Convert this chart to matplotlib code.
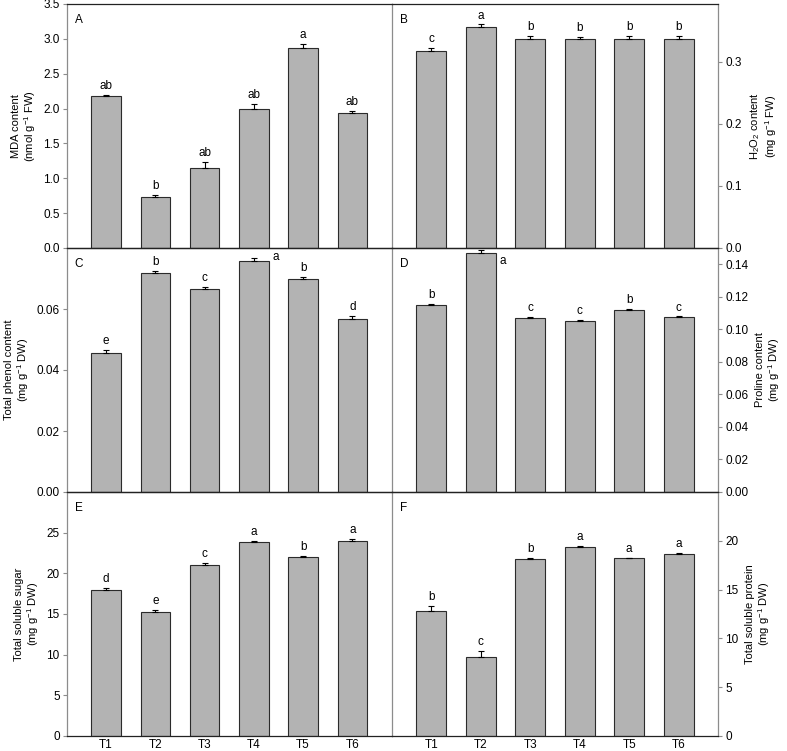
"""Six-panel bar chart (A-F) of stress markers across treatments T1-T6."""

import matplotlib

matplotlib.use("Agg")
import matplotlib.pyplot as plt  # noqa: E402
import numpy as np  # noqa: E402

plt.rcParams["font.family"] = ["Liberation Sans", "DejaVu Sans"]
plt.rcParams["font.size"] = 8

treatments = ["T1", "T2", "T3", "T4", "T5", "T6"]

mda = [2.18, 0.73, 1.15, 1.99, 2.87, 1.94]
mda_err = [0.02, 0.03, 0.08, 0.07, 0.06, 0.02]
mda_letters = ["ab", "b", "ab", "ab", "a", "ab"]

h2o2 = [0.318, 0.356, 0.337, 0.336, 0.337, 0.337]
h2o2_err = [0.004, 0.004, 0.004, 0.004, 0.004, 0.004]
h2o2_letters = ["c", "a", "b", "b", "b", "b"]

phenol = [0.0457, 0.0717, 0.0665, 0.0759, 0.0697, 0.0567]
phenol_err = [0.0008, 0.0008, 0.0007, 0.0007, 0.0008, 0.0009]
phenol_letters = ["e", "b", "c", "a", "b", "d"]

proline = [0.1151, 0.147, 0.107, 0.1053, 0.112, 0.1074]
proline_err = [0.0007, 0.0015, 0.0005, 0.0005, 0.0005, 0.0005]
proline_letters = ["b", "a", "c", "c", "b", "c"]

sugar = [17.9, 15.22, 21.08, 23.85, 22.06, 24.02]
sugar_err = [0.3, 0.25, 0.2, 0.15, 0.1, 0.15]
sugar_letters = ["d", "e", "c", "a", "b", "a"]

protein = [12.77, 8.1, 18.16, 19.38, 18.22, 18.67]
protein_err = [0.6, 0.57, 0.1, 0.05, 0.05, 0.1]
protein_letters = ["b", "c", "b", "a", "a", "a"]

panels = [
    # label, values, errors, letters, ylabel, ymax, yticks, side,
    # (bar index, dy) for a letter written beside the bar, tick format
    ("A", mda, mda_err, mda_letters, "MDA content\n(nmol g$\\mathregular{^{-1}}$ FW)",
     3.5, np.arange(0, 3.51, 0.5), "left", None, "{:.1f}"),
    ("B", h2o2, h2o2_err, h2o2_letters,
     "H$\\mathregular{_2}$O$\\mathregular{_2}$ content\n(mg g$\\mathregular{^{-1}}$ FW)",
     0.393, np.arange(0, 0.31, 0.1), "right", None, "{:.1f}"),
    ("C", phenol, phenol_err, phenol_letters,
     "Total phenol content\n(mg g$\\mathregular{^{-1}}$ DW)",
     0.08, np.arange(0, 0.061, 0.02), "left", (3, 0.015), "{:.2f}"),
    ("D", proline, proline_err, proline_letters,
     "Proline content\n(mg g$\\mathregular{^{-1}}$ DW)",
     0.15, np.arange(0, 0.141, 0.02), "right", (1, -0.033), "{:.2f}"),
    ("E", sugar, sugar_err, sugar_letters,
     "Total soluble sugar\n(mg g$\\mathregular{^{-1}}$ DW)",
     30, np.arange(0, 26, 5), "left", None, "{:.0f}"),
    ("F", protein, protein_err, protein_letters,
     "Total soluble protein\n(mg g$\\mathregular{^{-1}}$ DW)",
     25, np.arange(0, 21, 5), "right", None, "{:.0f}"),
]

W, H = 787, 751
fig = plt.figure(figsize=(W / 100, H / 100), dpi=100)

x_left, x_mid, x_right = 66.7 / W, 391.7 / W, 718.3 / W
row_edges = [4, 248, 492, 736]
x = np.arange(1, len(treatments) + 1)
grey = "#8c8c8c"

for k, (lab, vals, errs, letters, ylabel, ymax, yticks, side, beside, fmt) in enumerate(panels):
    row, col = divmod(k, 2)
    left = x_left if col == 0 else x_mid
    width = (x_mid - x_left) if col == 0 else (x_right - x_mid)
    bottom = 1 - row_edges[row + 1] / H
    height = (row_edges[row + 1] - row_edges[row]) / H
    ax = fig.add_axes([left, bottom, width, height])
    ax.patch.set_alpha(0)

    ax.bar(x, vals, width=0.6, color="#b3b3b3", edgecolor="#2b2b2b", linewidth=0.8, zorder=2)
    ax.errorbar(x, vals, yerr=[np.zeros(len(errs)), errs], fmt="none", ecolor="black",
                elinewidth=0.8, capsize=2.5, capthick=0.8, zorder=3)

    pad = ymax * 0.012
    for i, (v, e, t) in enumerate(zip(vals, errs, letters)):
        if beside is not None and beside[0] == i:
            ax.text(x[i] + 0.38, v + beside[1] * ymax, t, ha="left", va="center", fontsize=8.5)
        else:
            ax.text(x[i], v + e + pad, t, ha="center", va="bottom", fontsize=8.5)

    ax.set_xlim(0.2, 6.8)
    ax.set_ylim(0, ymax)
    ax.set_yticks(yticks)
    ax.set_yticklabels([fmt.format(t) for t in yticks], fontsize=8.5)
    ax.text(0.025, 0.96, lab, transform=ax.transAxes, ha="left", va="top", fontsize=8.5)

    ax.spines["left"].set_color(grey)
    ax.spines["right"].set_color(grey)
    ax.spines["top"].set_color("#222222")
    ax.spines["bottom"].set_color("#222222")
    for s in ax.spines.values():
        s.set_linewidth(0.9)
    if col == 1:
        ax.spines["left"].set_visible(False)

    ax.yaxis.set_ticks_position(side)
    ax.yaxis.set_label_position(side)
    ax.tick_params(axis="y", direction="out", length=3, width=0.8, color=grey, pad=2)
    ax.set_ylabel(ylabel, fontsize=8, linespacing=1.1,
                  labelpad=4 if side == "left" else 5)

    if row == 2:
        ax.set_xticks(x)
        ax.set_xticklabels(treatments, fontsize=8.5)
        ax.tick_params(axis="x", length=0, pad=2.5)
    else:
        ax.set_xticks([])

fig.savefig("out.png", dpi=100)
plt.close(fig)
